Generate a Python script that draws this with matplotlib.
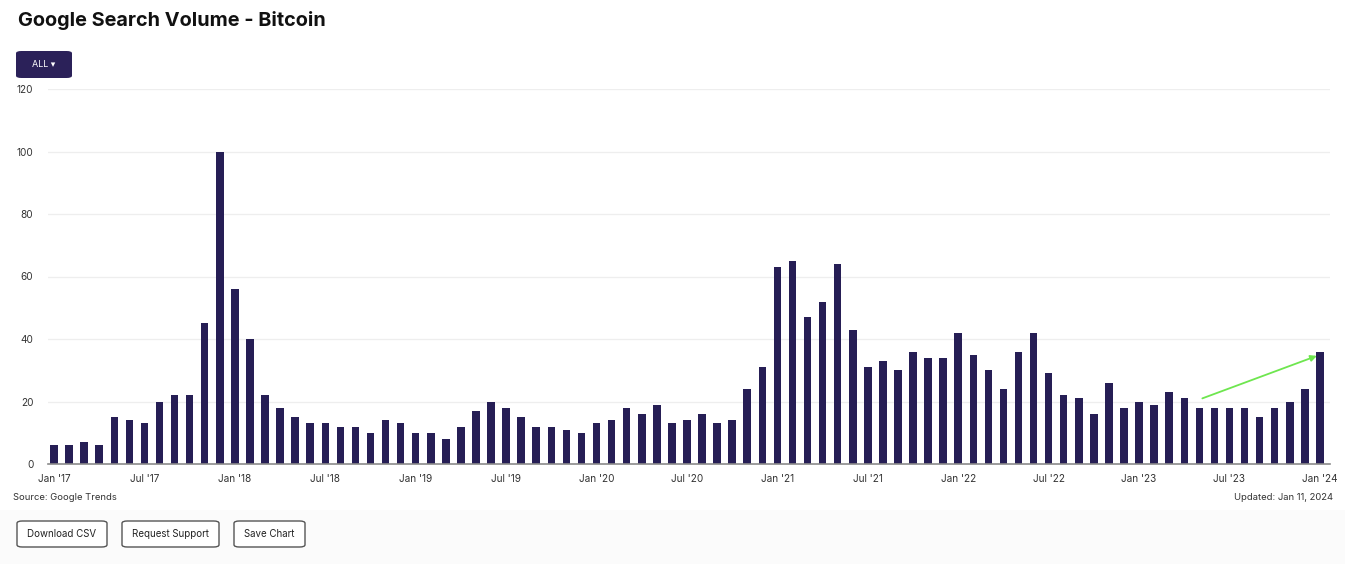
import matplotlib
matplotlib.use('Agg')
import matplotlib.pyplot as plt
from matplotlib.patches import FancyBboxPatch, Rectangle

# monthly Google Trends index, Jan 2017 .. Jan 2024
vol_2017 = [6, 6, 7, 6, 15, 14, 13, 20, 22, 22, 45, 100]
vol_2018 = [56, 40, 22, 18, 15, 13, 13, 12, 12, 10, 14, 13]
vol_2019 = [10, 10, 8, 12, 17, 20, 18, 15, 12, 12, 11, 10]
vol_2020 = [13, 14, 18, 16, 19, 13, 14, 16, 13, 14, 24, 31]
vol_2021 = [63, 65, 47, 52, 64, 43, 31, 33, 30, 36, 34, 34]
vol_2022 = [42, 35, 30, 24, 36, 42, 29, 22, 21, 16, 26, 18]
vol_2023 = [20, 19, 23, 21, 18, 18, 18, 18, 15, 18, 20, 24]
vol_2024 = [36]
volume = vol_2017 + vol_2018 + vol_2019 + vol_2020 + vol_2021 + vol_2022 + vol_2023 + vol_2024

tick_labels = ["Jan '17", "Jul '17", "Jan '18", "Jul '18", "Jan '19", "Jul '19",
               "Jan '20", "Jul '20", "Jan '21", "Jul '21", "Jan '22", "Jul '22",
               "Jan '23", "Jul '23", "Jan '24"]
y_ticks = [0, 20, 40, 60, 80, 100, 120]

# trend arrow (month index, value)
arrow_start = (76.2, 21)
arrow_end = (83.8, 34.6)

BAR = '#261e55'
FONT = ['Inter', 'DejaVu Sans']
plt.rcParams['font.family'] = FONT

fig = plt.figure(figsize=(13.45, 5.64), dpi=100)
fig.patch.set_facecolor('white')

# light grey footer area
fig.patches.append(Rectangle((0, 0), 1, 1 - 510 / 564, transform=fig.transFigure,
                             facecolor='#fbfbfb', edgecolor='none', zorder=0))

ax = fig.add_axes([48 / 1345, 1 - 464 / 564, (1330 - 48) / 1345, (464 - 89) / 564])
x = list(range(len(volume)))
ax.bar(x, volume, width=0.5, color=BAR, zorder=3)

ax.set_xlim(-0.4, 84.67)
ax.set_ylim(0, 120)
ax.set_yticks(y_ticks)
ax.set_xticks(list(range(0, len(volume), 6)))
ax.set_xticklabels(tick_labels)
ax.tick_params(axis='both', length=0, labelsize=7.2, labelcolor='#333333')
ax.tick_params(axis='x', pad=7)
ax.tick_params(axis='y', pad=10.5)
ax.grid(axis='y', color='#eeeeee', linewidth=0.9, zorder=0)
for s in ['top', 'right', 'left']:
    ax.spines[s].set_visible(False)
ax.spines['bottom'].set_color('#8a8a8a')
ax.spines['bottom'].set_linewidth(1.2)
ax.spines['bottom'].set_zorder(4)

ax.annotate('', xy=arrow_end, xytext=arrow_start,
            arrowprops=dict(arrowstyle='-|>', color='#6ee64f', lw=1.3,
                            mutation_scale=9, shrinkA=0, shrinkB=0), zorder=5)

# title
fig.text(18 / 1345, 1 - 21 / 564, 'Google Search Volume - Bitcoin', fontsize=14.3,
         fontweight='bold', color='#111111', va='center', ha='left')

# "ALL" dropdown button
fig.patches.append(FancyBboxPatch((16 / 1345, 1 - 78 / 564), 56 / 1345, 27 / 564,
                                  boxstyle='round,pad=0,rounding_size=0.004',
                                  transform=fig.transFigure, facecolor='#2b2159',
                                  edgecolor='none'))
fig.text(44 / 1345, 1 - 64.5 / 564, 'ALL \u25be', fontsize=6.5, color='white',
         ha='center', va='center')

fig.text(13 / 1345, 1 - 497 / 564, 'Source: Google Trends', fontsize=6.8,
         color='#333333', va='center', ha='left')
fig.text(1333 / 1345, 1 - 497 / 564, 'Updated: Jan 11, 2024', fontsize=6.8,
         color='#333333', va='center', ha='right')

# footer buttons
buttons = [('Download CSV', 17, 107), ('Request Support', 122, 219), ('Save Chart', 234, 305)]
for label, x0, x1 in buttons:
    fig.patches.append(FancyBboxPatch((x0 / 1345, 1 - 547 / 564), (x1 - x0) / 1345, 26 / 564,
                                      boxstyle='round,pad=0,rounding_size=0.004',
                                      transform=fig.transFigure, facecolor='white',
                                      edgecolor='#555555', linewidth=1.0))
    fig.text((x0 + x1) / 2 / 1345, 1 - 534 / 564, label, fontsize=7, color='#222222',
             ha='center', va='center')

fig.savefig('out.png', dpi=100)
